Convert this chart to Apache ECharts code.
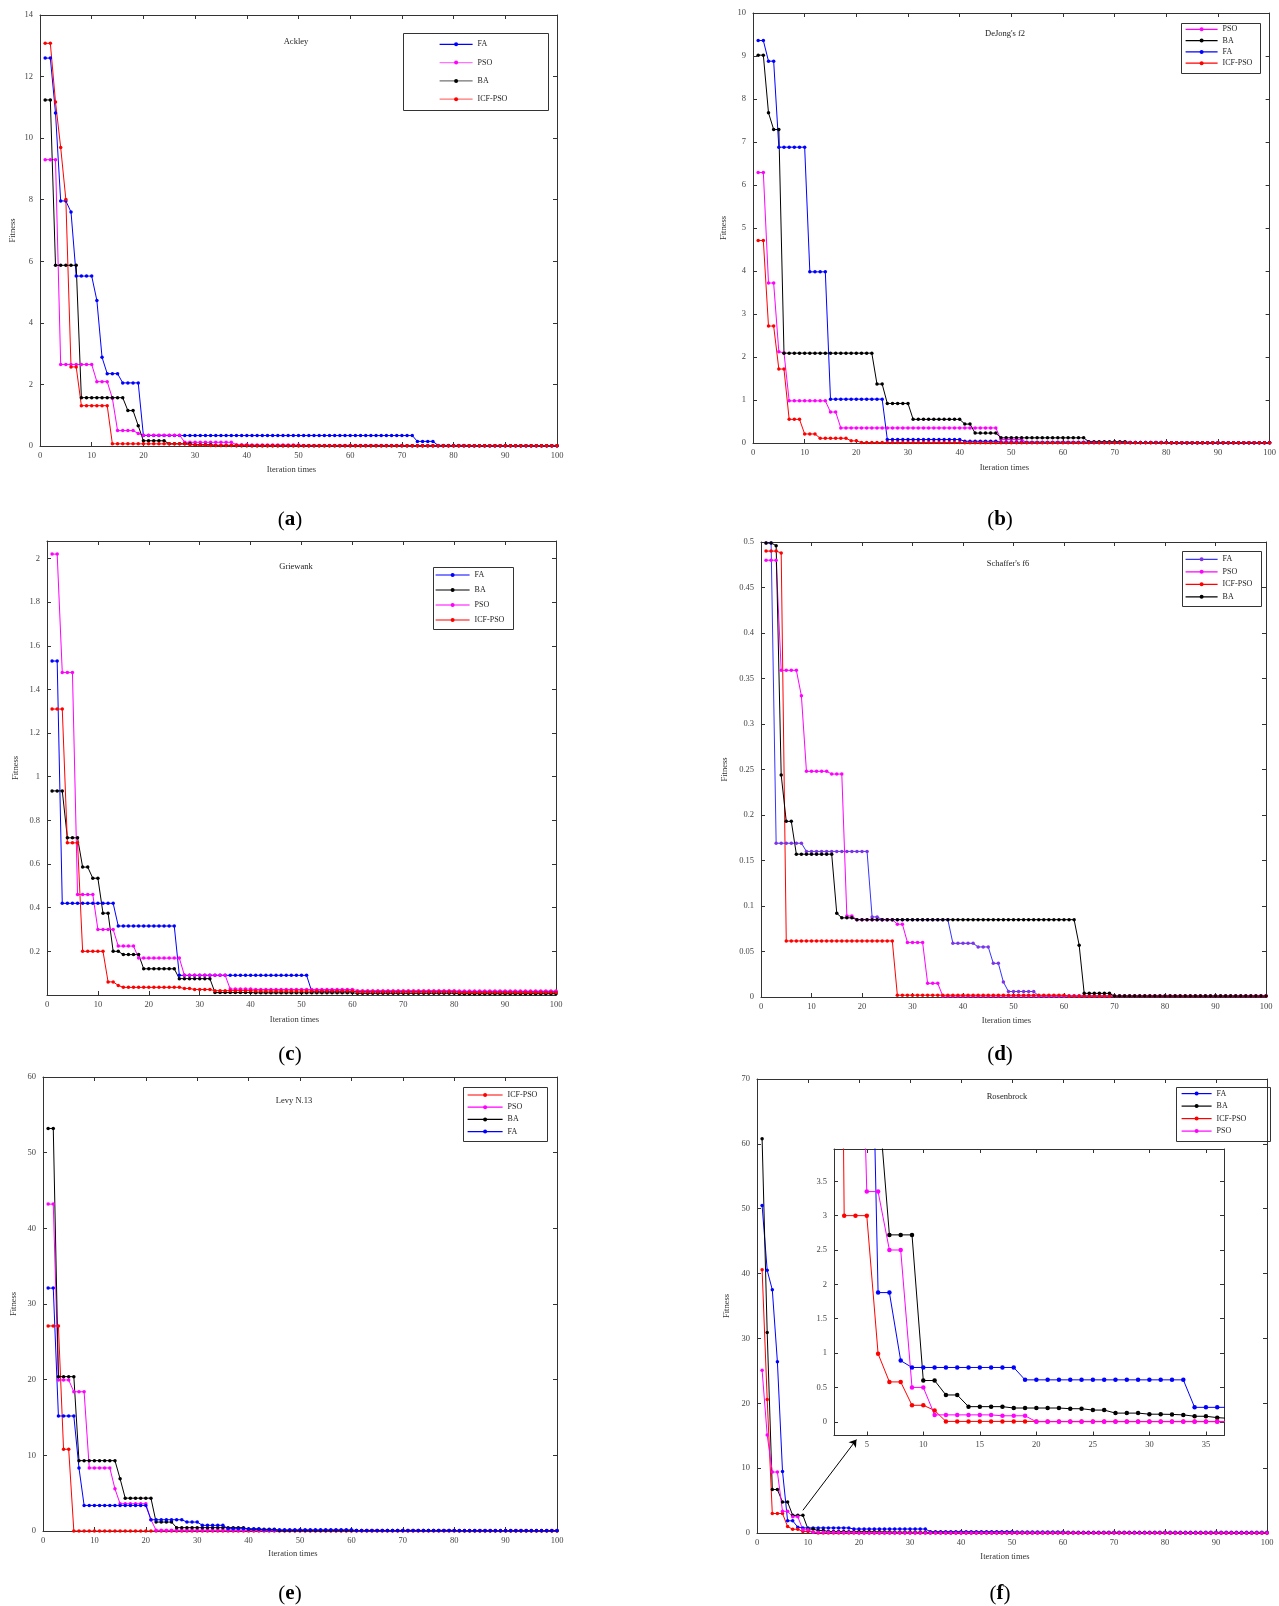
<!DOCTYPE html>
<html>
<head>
<meta charset="utf-8">
<title>Convergence curves</title>
<script src="https://cdn.jsdelivr.net/npm/echarts@6/dist/echarts.min.js"></script>
<style>
  html, body { margin: 0; padding: 0; background: #fff; }
  #main { width: 1279px; height: 1606px; }
</style>
</head>
<body>
<div id="main"></div>
<script>
// iteration index (x axis)
var iterations = [];
for (var k = 1; k <= 100; k++) iterations.push(k);

// (a) Ackley
var ackleyFA = [12.6, 12.6, 10.82, 7.96, 7.96, 7.6, 5.52, 5.52, 5.52, 5.52,
  4.73, 2.88, 2.35, 2.35, 2.35, 2.05, 2.05, 2.05, 2.05, 0.34,
  0.34, 0.34, 0.34, 0.34, 0.34, 0.34, 0.34, 0.34, 0.34, 0.34,
  0.34, 0.34, 0.34, 0.34, 0.34, 0.34, 0.34, 0.34, 0.34, 0.34,
  0.34, 0.34, 0.34, 0.34, 0.34, 0.34, 0.34, 0.34, 0.34, 0.34,
  0.34, 0.34, 0.34, 0.34, 0.34, 0.34, 0.34, 0.34, 0.34, 0.34,
  0.34, 0.34, 0.34, 0.34, 0.34, 0.34, 0.34, 0.34, 0.34, 0.34,
  0.34, 0.34, 0.15, 0.15, 0.15, 0.15, 0.02, 0.02, 0.02, 0.02,
  0.02, 0.02, 0.01, 0.01, 0.01, 0.01, 0.01, 0.01, 0.01, 0.01,
  0.01, 0.01, 0.01, 0.01, 0.01, 0.01, 0.01, 0.01, 0.01, 0.01];
var ackleyPSO = [9.3, 9.3, 9.3, 2.65, 2.65, 2.65, 2.65, 2.65, 2.65, 2.65,
  2.09, 2.09, 2.09, 1.55, 0.5, 0.5, 0.5, 0.5, 0.41, 0.35,
  0.35, 0.35, 0.35, 0.35, 0.35, 0.35, 0.35, 0.12, 0.12, 0.12,
  0.12, 0.12, 0.12, 0.12, 0.12, 0.12, 0.12, 0.04, 0.04, 0.04,
  0.03, 0.03, 0.03, 0.03, 0.03, 0.03, 0.03, 0.03, 0.03, 0.03,
  0.02, 0.02, 0.02, 0.02, 0.02, 0.02, 0.02, 0.02, 0.02, 0.02,
  0.02, 0.02, 0.02, 0.02, 0.02, 0.02, 0.02, 0.02, 0.02, 0.02,
  0.01, 0.01, 0.01, 0.01, 0.01, 0.01, 0.01, 0.01, 0.01, 0.01,
  0.01, 0.01, 0.01, 0.01, 0.01, 0.01, 0.01, 0.01, 0.01, 0.01,
  0.01, 0.01, 0.01, 0.01, 0.01, 0.01, 0.01, 0.01, 0.01, 0.01];
var ackleyBA = [11.24, 11.24, 5.87, 5.87, 5.87, 5.87, 5.87, 1.57, 1.57, 1.57,
  1.57, 1.57, 1.57, 1.57, 1.57, 1.57, 1.15, 1.15, 0.66, 0.17,
  0.17, 0.17, 0.17, 0.17, 0.07, 0.07, 0.07, 0.07, 0.07, 0.04,
  0.04, 0.04, 0.04, 0.02, 0.02, 0.02, 0.02, 0.01, 0.01, 0.01,
  0.01, 0.01, 0.01, 0.01, 0.01, 0.01, 0.01, 0.01, 0.01, 0.01,
  0.01, 0.01, 0.01, 0.01, 0.01, 0.01, 0.01, 0.01, 0.01, 0.01,
  0.01, 0.01, 0.01, 0.01, 0.01, 0.01, 0.01, 0.01, 0.01, 0.01,
  0.01, 0.01, 0.01, 0.01, 0.01, 0.01, 0.01, 0.01, 0.01, 0.01,
  0.005, 0.005, 0.005, 0.005, 0.005, 0.005, 0.005, 0.005, 0.005, 0.005,
  0.005, 0.005, 0.005, 0.005, 0.005, 0.005, 0.005, 0.005, 0.005, 0.005];
var ackleyICF = [13.08, 13.08, 11.17, 9.7, 8.01, 2.57, 2.57, 1.31, 1.31, 1.31,
  1.31, 1.31, 1.31, 0.07, 0.07, 0.07, 0.07, 0.07, 0.07, 0.07,
  0.07, 0.07, 0.07, 0.07, 0.07, 0.07, 0.07, 0.07, 0.04, 0.04,
  0.03, 0.03, 0.02, 0.02, 0.02, 0.02, 0.02, 0.02, 0.02, 0.02,
  0.01, 0.01, 0.01, 0.01, 0.01, 0.01, 0.01, 0.01, 0.01, 0.01,
  0.01, 0.01, 0.01, 0.01, 0.01, 0.01, 0.01, 0.01, 0.01, 0.01,
  0.005, 0.005, 0.005, 0.005, 0.005, 0.005, 0.005, 0.005, 0.005, 0.005,
  0.005, 0.005, 0.005, 0.005, 0.005, 0.005, 0.005, 0.005, 0.005, 0.005,
  0.005, 0.005, 0.005, 0.005, 0.005, 0.005, 0.005, 0.005, 0.005, 0.005,
  0.005, 0.005, 0.005, 0.005, 0.005, 0.005, 0.005, 0.005, 0.005, 0.005];

// (b) DeJong's f2
var dejongFA = [9.36, 9.36, 8.88, 8.88, 6.88, 6.88, 6.88, 6.88, 6.88, 6.88,
  3.98, 3.98, 3.98, 3.98, 1.02, 1.02, 1.02, 1.02, 1.02, 1.02,
  1.02, 1.02, 1.02, 1.02, 1.02, 0.08, 0.08, 0.08, 0.08, 0.08,
  0.08, 0.08, 0.08, 0.08, 0.08, 0.08, 0.08, 0.08, 0.08, 0.08,
  0.04, 0.04, 0.04, 0.04, 0.04, 0.04, 0.04, 0.02, 0.02, 0.02,
  0.02, 0.02, 0.02, 0.02, 0.02, 0.02, 0.02, 0.02, 0.02, 0.02,
  0.02, 0.02, 0.02, 0.02, 0.02, 0.01, 0.01, 0.01, 0.01, 0.01,
  0.01, 0.01, 0.01, 0.01, 0.01, 0.01, 0.01, 0.01, 0.01, 0.01,
  0.005, 0.005, 0.005, 0.005, 0.005, 0.005, 0.005, 0.005, 0.005, 0.005,
  0.005, 0.005, 0.005, 0.005, 0.005, 0.005, 0.005, 0.005, 0.005, 0.005];
var dejongBA = [9.02, 9.02, 7.68, 7.29, 7.29, 2.09, 2.09, 2.09, 2.09, 2.09,
  2.09, 2.09, 2.09, 2.09, 2.09, 2.09, 2.09, 2.09, 2.09, 2.09,
  2.09, 2.09, 2.09, 1.37, 1.37, 0.92, 0.92, 0.92, 0.92, 0.92,
  0.55, 0.55, 0.55, 0.55, 0.55, 0.55, 0.55, 0.55, 0.55, 0.55,
  0.44, 0.44, 0.23, 0.23, 0.23, 0.23, 0.23, 0.12, 0.12, 0.12,
  0.12, 0.12, 0.12, 0.12, 0.12, 0.12, 0.12, 0.12, 0.12, 0.12,
  0.12, 0.12, 0.12, 0.12, 0.03, 0.03, 0.03, 0.03, 0.03, 0.03,
  0.03, 0.03, 0.01, 0.01, 0.01, 0.01, 0.01, 0.01, 0.01, 0.01,
  0.005, 0.005, 0.005, 0.005, 0.005, 0.005, 0.005, 0.005, 0.005, 0.005,
  0.005, 0.005, 0.005, 0.005, 0.005, 0.005, 0.005, 0.005, 0.005, 0.005];
var dejongPSO = [6.29, 6.29, 3.72, 3.72, 2.12, 2.1, 0.98, 0.98, 0.98, 0.98,
  0.98, 0.98, 0.98, 0.98, 0.72, 0.72, 0.35, 0.35, 0.35, 0.35,
  0.35, 0.35, 0.35, 0.35, 0.35, 0.35, 0.35, 0.35, 0.35, 0.35,
  0.35, 0.35, 0.35, 0.35, 0.35, 0.35, 0.35, 0.35, 0.35, 0.35,
  0.35, 0.35, 0.35, 0.35, 0.35, 0.35, 0.35, 0.08, 0.08, 0.08,
  0.08, 0.08, 0.01, 0.01, 0.01, 0.01, 0.01, 0.01, 0.01, 0.01,
  0.01, 0.01, 0.01, 0.01, 0.01, 0.01, 0.01, 0.01, 0.01, 0.01,
  0.01, 0.01, 0.01, 0.01, 0.01, 0.01, 0.01, 0.01, 0.01, 0.01,
  0.005, 0.005, 0.005, 0.005, 0.005, 0.005, 0.005, 0.005, 0.005, 0.005,
  0.005, 0.005, 0.005, 0.005, 0.005, 0.005, 0.005, 0.005, 0.005, 0.005];
var dejongICF = [4.71, 4.71, 2.72, 2.72, 1.72, 1.72, 0.55, 0.55, 0.55, 0.21,
  0.21, 0.21, 0.11, 0.11, 0.11, 0.11, 0.11, 0.11, 0.05, 0.05,
  0.01, 0.01, 0.01, 0.01, 0.01, 0.01, 0.01, 0.01, 0.01, 0.01,
  0.01, 0.01, 0.01, 0.01, 0.01, 0.01, 0.01, 0.01, 0.01, 0.01,
  0.005, 0.005, 0.005, 0.005, 0.005, 0.005, 0.005, 0.005, 0.005, 0.005,
  0.005, 0.005, 0.005, 0.005, 0.005, 0.005, 0.005, 0.005, 0.005, 0.005,
  0.005, 0.005, 0.005, 0.005, 0.005, 0.005, 0.005, 0.005, 0.005, 0.005,
  0.005, 0.005, 0.005, 0.005, 0.005, 0.005, 0.005, 0.005, 0.005, 0.005,
  0.005, 0.005, 0.005, 0.005, 0.005, 0.005, 0.005, 0.005, 0.005, 0.005,
  0.005, 0.005, 0.005, 0.005, 0.005, 0.005, 0.005, 0.005, 0.005, 0.005];

// (c) Griewank
var griewankFA = [1.53, 1.53, 0.42, 0.42, 0.42, 0.42, 0.42, 0.42, 0.42, 0.42,
  0.42, 0.42, 0.42, 0.316, 0.316, 0.316, 0.316, 0.316, 0.316, 0.316,
  0.316, 0.316, 0.316, 0.316, 0.316, 0.09, 0.09, 0.09, 0.09, 0.09,
  0.09, 0.09, 0.09, 0.09, 0.09, 0.09, 0.09, 0.09, 0.09, 0.09,
  0.09, 0.09, 0.09, 0.09, 0.09, 0.09, 0.09, 0.09, 0.09, 0.09,
  0.09, 0.017, 0.017, 0.017, 0.017, 0.017, 0.017, 0.017, 0.017, 0.017,
  0.015, 0.015, 0.015, 0.015, 0.015, 0.015, 0.015, 0.015, 0.015, 0.015,
  0.015, 0.015, 0.015, 0.015, 0.015, 0.015, 0.015, 0.015, 0.015, 0.015,
  0.015, 0.015, 0.015, 0.015, 0.015, 0.015, 0.015, 0.015, 0.015, 0.015,
  0.015, 0.015, 0.015, 0.015, 0.015, 0.015, 0.015, 0.015, 0.015, 0.015];
var griewankBA = [0.935, 0.935, 0.935, 0.72, 0.72, 0.72, 0.586, 0.586, 0.535, 0.535,
  0.375, 0.375, 0.2, 0.2, 0.185, 0.185, 0.185, 0.185, 0.12, 0.12,
  0.12, 0.12, 0.12, 0.12, 0.12, 0.075, 0.075, 0.075, 0.075, 0.075,
  0.075, 0.075, 0.011, 0.011, 0.011, 0.011, 0.011, 0.011, 0.011, 0.011,
  0.01, 0.01, 0.01, 0.01, 0.01, 0.01, 0.01, 0.01, 0.01, 0.01,
  0.01, 0.01, 0.01, 0.01, 0.01, 0.01, 0.01, 0.01, 0.01, 0.01,
  0.008, 0.008, 0.008, 0.008, 0.008, 0.008, 0.008, 0.008, 0.008, 0.008,
  0.008, 0.008, 0.008, 0.008, 0.008, 0.008, 0.008, 0.008, 0.008, 0.008,
  0.006, 0.006, 0.006, 0.006, 0.006, 0.006, 0.006, 0.006, 0.006, 0.006,
  0.006, 0.006, 0.006, 0.006, 0.006, 0.006, 0.006, 0.006, 0.006, 0.006];
var griewankPSO = [2.02, 2.02, 1.478, 1.478, 1.478, 0.46, 0.46, 0.46, 0.46, 0.3,
  0.3, 0.3, 0.3, 0.224, 0.224, 0.224, 0.224, 0.169, 0.169, 0.169,
  0.169, 0.169, 0.169, 0.169, 0.169, 0.169, 0.09, 0.09, 0.09, 0.09,
  0.09, 0.09, 0.09, 0.09, 0.09, 0.027, 0.027, 0.027, 0.027, 0.027,
  0.025, 0.025, 0.025, 0.025, 0.025, 0.025, 0.025, 0.025, 0.025, 0.025,
  0.025, 0.025, 0.025, 0.025, 0.025, 0.025, 0.025, 0.025, 0.025, 0.025,
  0.02, 0.02, 0.02, 0.02, 0.02, 0.02, 0.02, 0.02, 0.02, 0.02,
  0.02, 0.02, 0.02, 0.02, 0.02, 0.02, 0.02, 0.02, 0.02, 0.02,
  0.018, 0.018, 0.018, 0.018, 0.018, 0.018, 0.018, 0.018, 0.018, 0.018,
  0.018, 0.018, 0.018, 0.018, 0.018, 0.018, 0.018, 0.018, 0.018, 0.018];
var griewankICF = [1.31, 1.31, 1.31, 0.697, 0.697, 0.697, 0.2, 0.2, 0.2, 0.2,
  0.2, 0.06, 0.06, 0.044, 0.035, 0.035, 0.035, 0.035, 0.035, 0.035,
  0.035, 0.035, 0.035, 0.035, 0.035, 0.035, 0.03, 0.03, 0.025, 0.025,
  0.025, 0.025, 0.02, 0.02, 0.02, 0.02, 0.02, 0.02, 0.02, 0.02,
  0.018, 0.018, 0.018, 0.018, 0.018, 0.018, 0.018, 0.018, 0.018, 0.018,
  0.018, 0.018, 0.018, 0.018, 0.018, 0.018, 0.018, 0.018, 0.018, 0.018,
  0.014, 0.014, 0.014, 0.014, 0.014, 0.014, 0.014, 0.014, 0.014, 0.014,
  0.014, 0.014, 0.014, 0.014, 0.014, 0.014, 0.014, 0.014, 0.014, 0.014,
  0.012, 0.012, 0.012, 0.012, 0.012, 0.012, 0.012, 0.012, 0.012, 0.012,
  0.012, 0.012, 0.012, 0.012, 0.012, 0.012, 0.012, 0.012, 0.012, 0.012];

// (d) Schaffer's f6
var schafferFA = [0.499, 0.499, 0.169, 0.169, 0.169, 0.169, 0.169, 0.169, 0.16, 0.16,
  0.16, 0.16, 0.16, 0.16, 0.16, 0.16, 0.16, 0.16, 0.16, 0.16,
  0.16, 0.088, 0.088, 0.085, 0.085, 0.085, 0.085, 0.085, 0.085, 0.085,
  0.085, 0.085, 0.085, 0.085, 0.085, 0.085, 0.085, 0.059, 0.059, 0.059,
  0.059, 0.059, 0.055, 0.055, 0.055, 0.037, 0.037, 0.0165, 0.006, 0.006,
  0.006, 0.006, 0.006, 0.006, 0.001, 0.001, 0.001, 0.001, 0.001, 0.001,
  0.001, 0.001, 0.001, 0.001, 0.001, 0.001, 0.001, 0.001, 0.001, 0.001,
  0.001, 0.001, 0.001, 0.001, 0.001, 0.001, 0.001, 0.001, 0.001, 0.001,
  0.001, 0.001, 0.001, 0.001, 0.001, 0.001, 0.001, 0.001, 0.001, 0.001,
  0.001, 0.001, 0.001, 0.001, 0.001, 0.001, 0.001, 0.001, 0.001, 0.001];
var schafferPSO = [0.48, 0.48, 0.48, 0.359, 0.359, 0.359, 0.359, 0.331, 0.248, 0.248,
  0.248, 0.248, 0.248, 0.245, 0.245, 0.245, 0.089, 0.089, 0.085, 0.085,
  0.085, 0.085, 0.085, 0.085, 0.085, 0.085, 0.08, 0.08, 0.06, 0.06,
  0.06, 0.06, 0.015, 0.015, 0.015, 0.001, 0.001, 0.001, 0.001, 0.001,
  0.001, 0.001, 0.001, 0.001, 0.001, 0.001, 0.001, 0.001, 0.001, 0.001,
  0.001, 0.001, 0.001, 0.001, 0.001, 0.001, 0.001, 0.001, 0.001, 0.001,
  0.001, 0.001, 0.001, 0.001, 0.001, 0.001, 0.001, 0.001, 0.001, 0.001,
  0.001, 0.001, 0.001, 0.001, 0.001, 0.001, 0.001, 0.001, 0.001, 0.001,
  0.001, 0.001, 0.001, 0.001, 0.001, 0.001, 0.001, 0.001, 0.001, 0.001,
  0.001, 0.001, 0.001, 0.001, 0.001, 0.001, 0.001, 0.001, 0.001, 0.001];
var schafferICF = [0.49, 0.49, 0.49, 0.488, 0.0616, 0.0616, 0.0616, 0.0616, 0.0616, 0.0616,
  0.0616, 0.0616, 0.0616, 0.0616, 0.0616, 0.0616, 0.0616, 0.0616, 0.0616, 0.0616,
  0.0616, 0.0616, 0.0616, 0.0616, 0.0616, 0.0616, 0.002, 0.002, 0.002, 0.002,
  0.002, 0.002, 0.002, 0.002, 0.002, 0.002, 0.002, 0.002, 0.002, 0.002,
  0.002, 0.002, 0.002, 0.002, 0.002, 0.002, 0.002, 0.002, 0.002, 0.002,
  0.002, 0.002, 0.002, 0.002, 0.002, 0.002, 0.002, 0.002, 0.002, 0.002,
  0.001, 0.001, 0.001, 0.001, 0.001, 0.001, 0.001, 0.001, 0.001, 0.001,
  0.001, 0.001, 0.001, 0.001, 0.001, 0.001, 0.001, 0.001, 0.001, 0.001,
  0.001, 0.001, 0.001, 0.001, 0.001, 0.001, 0.001, 0.001, 0.001, 0.001,
  0.001, 0.001, 0.001, 0.001, 0.001, 0.001, 0.001, 0.001, 0.001, 0.001];
var schafferBA = [0.499, 0.499, 0.496, 0.244, 0.193, 0.193, 0.157, 0.157, 0.157, 0.157,
  0.157, 0.157, 0.157, 0.157, 0.092, 0.087, 0.087, 0.087, 0.085, 0.085,
  0.085, 0.085, 0.085, 0.085, 0.085, 0.085, 0.085, 0.085, 0.085, 0.085,
  0.085, 0.085, 0.085, 0.085, 0.085, 0.085, 0.085, 0.085, 0.085, 0.085,
  0.085, 0.085, 0.085, 0.085, 0.085, 0.085, 0.085, 0.085, 0.085, 0.085,
  0.085, 0.085, 0.085, 0.085, 0.085, 0.085, 0.085, 0.085, 0.085, 0.085,
  0.085, 0.085, 0.057, 0.004, 0.004, 0.004, 0.004, 0.004, 0.004, 0.001,
  0.001, 0.001, 0.001, 0.001, 0.001, 0.001, 0.001, 0.001, 0.001, 0.001,
  0.001, 0.001, 0.001, 0.001, 0.001, 0.001, 0.001, 0.001, 0.001, 0.001,
  0.001, 0.001, 0.001, 0.001, 0.001, 0.001, 0.001, 0.001, 0.001, 0.001];

// (e) Levy N.13
var levyICF = [27.1, 27.1, 27.1, 10.8, 10.8, 0, 0, 0, 0, 0,
  0, 0, 0, 0, 0, 0, 0, 0, 0, 0,
  0, 0, 0, 0, 0, 0, 0, 0, 0, 0,
  0, 0, 0, 0, 0, 0, 0, 0, 0, 0,
  0, 0, 0, 0, 0, 0, 0, 0, 0, 0,
  0, 0, 0, 0, 0, 0, 0, 0, 0, 0,
  0, 0, 0, 0, 0, 0, 0, 0, 0, 0,
  0, 0, 0, 0, 0, 0, 0, 0, 0, 0,
  0, 0, 0, 0, 0, 0, 0, 0, 0, 0,
  0, 0, 0, 0, 0, 0, 0, 0, 0, 0];
var levyPSO = [43.2, 43.2, 19.96, 19.96, 19.96, 18.4, 18.4, 18.4, 8.33, 8.33,
  8.33, 8.33, 8.33, 5.57, 3.6, 3.6, 3.6, 3.6, 3.6, 3.6,
  1.49, 0.1, 0.1, 0.1, 0.1, 0.1, 0.1, 0.1, 0.1, 0.1,
  0.1, 0.1, 0.1, 0.1, 0.1, 0.1, 0.1, 0.1, 0.1, 0.1,
  0.08, 0.08, 0.08, 0.08, 0.08, 0.08, 0.08, 0.08, 0.08, 0.08,
  0.08, 0.08, 0.08, 0.08, 0.08, 0.08, 0.08, 0.08, 0.08, 0.08,
  0.05, 0.05, 0.05, 0.05, 0.05, 0.05, 0.05, 0.05, 0.05, 0.05,
  0.05, 0.05, 0.05, 0.05, 0.05, 0.05, 0.05, 0.05, 0.05, 0.05,
  0.05, 0.05, 0.05, 0.05, 0.05, 0.05, 0.05, 0.05, 0.05, 0.05,
  0.05, 0.05, 0.05, 0.05, 0.05, 0.05, 0.05, 0.05, 0.05, 0.05];
var levyBA = [53.2, 53.2, 20.4, 20.4, 20.4, 20.4, 9.3, 9.3, 9.3, 9.3,
  9.3, 9.3, 9.3, 9.3, 6.9, 4.34, 4.34, 4.34, 4.34, 4.34,
  4.34, 1.18, 1.18, 1.18, 1.18, 0.44, 0.44, 0.44, 0.44, 0.44,
  0.44, 0.44, 0.44, 0.44, 0.44, 0.44, 0.44, 0.44, 0.44, 0.22,
  0.22, 0.22, 0.22, 0.22, 0.22, 0.05, 0.05, 0.05, 0.05, 0.05,
  0.05, 0.05, 0.05, 0.05, 0.05, 0.05, 0.05, 0.05, 0.05, 0.05,
  0.05, 0.05, 0.05, 0.05, 0.05, 0.05, 0.05, 0.05, 0.05, 0.05,
  0.05, 0.05, 0.05, 0.05, 0.05, 0.05, 0.05, 0.05, 0.05, 0.05,
  0.04, 0.04, 0.04, 0.04, 0.04, 0.04, 0.04, 0.04, 0.04, 0.04,
  0.04, 0.04, 0.04, 0.04, 0.04, 0.04, 0.04, 0.04, 0.04, 0.04];
var levyFA = [32.1, 32.1, 15.2, 15.2, 15.2, 15.2, 8.33, 3.38, 3.38, 3.38,
  3.38, 3.38, 3.38, 3.38, 3.38, 3.38, 3.38, 3.38, 3.38, 3.38,
  1.49, 1.49, 1.49, 1.49, 1.49, 1.49, 1.49, 1.18, 1.18, 1.18,
  0.75, 0.75, 0.75, 0.75, 0.75, 0.3, 0.3, 0.3, 0.3, 0.3,
  0.3, 0.3, 0.15, 0.15, 0.15, 0.15, 0.15, 0.15, 0.15, 0.15,
  0.15, 0.15, 0.15, 0.15, 0.15, 0.15, 0.15, 0.15, 0.15, 0.15,
  0.08, 0.08, 0.08, 0.08, 0.08, 0.08, 0.08, 0.08, 0.08, 0.08,
  0.08, 0.08, 0.08, 0.08, 0.08, 0.08, 0.08, 0.08, 0.08, 0.08,
  0.06, 0.06, 0.06, 0.06, 0.06, 0.06, 0.06, 0.06, 0.06, 0.06,
  0.06, 0.06, 0.06, 0.06, 0.06, 0.06, 0.06, 0.06, 0.06, 0.06];

// (f) Rosenbrock
var rosenFA = [50.5, 40.5, 37.5, 26.4, 9.5, 1.88, 1.88, 0.89, 0.79, 0.79,
  0.79, 0.79, 0.79, 0.79, 0.79, 0.79, 0.79, 0.79, 0.61, 0.61,
  0.61, 0.61, 0.61, 0.61, 0.61, 0.61, 0.61, 0.61, 0.61, 0.61,
  0.61, 0.61, 0.61, 0.21, 0.21, 0.21, 0.21, 0.21, 0.21, 0.21,
  0.21, 0.21, 0.21, 0.21, 0.21, 0.21, 0.21, 0.21, 0.21, 0.21,
  0.15, 0.15, 0.15, 0.15, 0.15, 0.15, 0.15, 0.15, 0.15, 0.15,
  0.1, 0.1, 0.1, 0.1, 0.1, 0.1, 0.1, 0.1, 0.1, 0.1,
  0.1, 0.1, 0.1, 0.1, 0.1, 0.1, 0.1, 0.1, 0.1, 0.1,
  0.1, 0.1, 0.1, 0.1, 0.1, 0.1, 0.1, 0.1, 0.1, 0.1,
  0.1, 0.1, 0.1, 0.1, 0.1, 0.1, 0.1, 0.1, 0.1, 0.1];
var rosenBA = [60.8, 30.9, 6.7, 6.7, 4.77, 4.77, 2.72, 2.72, 2.72, 0.6,
  0.6, 0.39, 0.39, 0.22, 0.22, 0.22, 0.22, 0.2, 0.2, 0.2,
  0.2, 0.2, 0.19, 0.19, 0.17, 0.17, 0.126, 0.126, 0.126, 0.11,
  0.11, 0.107, 0.1, 0.08, 0.08, 0.06, 0.05, 0.05, 0.04, 0.04,
  0.03, 0.03, 0.03, 0.03, 0.03, 0.03, 0.03, 0.03, 0.03, 0.03,
  0.03, 0.03, 0.03, 0.03, 0.03, 0.03, 0.03, 0.03, 0.03, 0.03,
  0.02, 0.02, 0.02, 0.02, 0.02, 0.02, 0.02, 0.02, 0.02, 0.02,
  0.02, 0.02, 0.02, 0.02, 0.02, 0.02, 0.02, 0.02, 0.02, 0.02,
  0.01, 0.01, 0.01, 0.01, 0.01, 0.01, 0.01, 0.01, 0.01, 0.01,
  0.01, 0.01, 0.01, 0.01, 0.01, 0.01, 0.01, 0.01, 0.01, 0.01];
var rosenICF = [40.6, 20.6, 3, 3, 3, 0.99, 0.58, 0.58, 0.24, 0.24,
  0.165, 0.005, 0.005, 0.005, 0.005, 0.005, 0.005, 0.005, 0.005, 0.005,
  0.005, 0.005, 0.005, 0.005, 0.005, 0.005, 0.005, 0.005, 0.005, 0.005,
  0.005, 0.005, 0.005, 0.005, 0.005, 0.005, 0.005, 0.005, 0.005, 0.005,
  0.005, 0.005, 0.005, 0.005, 0.005, 0.005, 0.005, 0.005, 0.005, 0.005,
  0.005, 0.005, 0.005, 0.005, 0.005, 0.005, 0.005, 0.005, 0.005, 0.005,
  0.005, 0.005, 0.005, 0.005, 0.005, 0.005, 0.005, 0.005, 0.005, 0.005,
  0.005, 0.005, 0.005, 0.005, 0.005, 0.005, 0.005, 0.005, 0.005, 0.005,
  0.005, 0.005, 0.005, 0.005, 0.005, 0.005, 0.005, 0.005, 0.005, 0.005,
  0.005, 0.005, 0.005, 0.005, 0.005, 0.005, 0.005, 0.005, 0.005, 0.005];
var rosenPSO = [25.1, 15.1, 9.4, 9.4, 3.35, 3.35, 2.5, 2.5, 0.5, 0.5,
  0.1, 0.1, 0.1, 0.1, 0.1, 0.1, 0.087, 0.087, 0.087, 0,
  0, 0, 0, 0, 0, 0, 0, 0, 0, 0,
  0, 0, 0, 0, 0, 0, 0, 0, 0, 0,
  0, 0, 0, 0, 0, 0, 0, 0, 0, 0,
  0, 0, 0, 0, 0, 0, 0, 0, 0, 0,
  0, 0, 0, 0, 0, 0, 0, 0, 0, 0,
  0, 0, 0, 0, 0, 0, 0, 0, 0, 0,
  0, 0, 0, 0, 0, 0, 0, 0, 0, 0,
  0, 0, 0, 0, 0, 0, 0, 0, 0, 0];

// arrow from the main Rosenbrock curves up to the zoomed inset (data coords)
var arrowFrom = [9.0, 3.5];
var arrowTo = [19.5, 14.4];

var FONT = 'Liberation Serif';
var COLORS = { 'FA': '#0000ff', 'PSO': '#ff00ff', 'BA': '#000000', 'ICF-PSO': '#ff0000' };
var FA_PURPLE = { line: '#3535ff', marker: '#8033e6' };
var LEGEND_ROW = 8;

var panels = [
  { title: 'Ackley', titleAt: [296, 42], tag: 'a', tagAt: [290, 520],
    box: [40, 15, 517, 431], yMax: 14, yStep: 2, yGap: 23, xGap: 19,
    series: [['FA', ackleyFA], ['PSO', ackleyPSO], ['BA', ackleyBA], ['ICF-PSO', ackleyICF]],
    legend: { left: 439, y0: 44.3, step: 18.3, w: 33, box: [403, 33, 145, 77], faded: true } },
  { title: "DeJong's f2", titleAt: [1005, 34], tag: 'b', tagAt: [1000, 520],
    box: [753, 13, 518, 430], yMax: 10, yStep: 1, yGap: 25, xGap: 20,
    series: [['PSO', dejongPSO], ['BA', dejongBA], ['FA', dejongFA], ['ICF-PSO', dejongICF]],
    legend: { left: 1185, y0: 29.3, step: 11.3, w: 32, box: [1181, 23, 79, 50] } },
  { title: 'Griewank', titleAt: [296, 567], tag: 'c', tagAt: [290, 1055],
    box: [47, 541, 509, 454], yMax: 2.08, yStep: 0.2, yGap: 27, xGap: 20, hideYMin: true,
    series: [['FA', griewankFA], ['BA', griewankBA], ['PSO', griewankPSO], ['ICF-PSO', griewankICF]],
    legend: { left: 435, y0: 575, step: 15, w: 34, box: [433, 567, 80, 62] } },
  { title: "Schaffer's f6", titleAt: [1008, 564], tag: 'd', tagAt: [1000, 1055],
    box: [761, 542, 505, 455], yMax: 0.5, yStep: 0.05, yGap: 32, xGap: 19, purpleFA: true,
    series: [['FA', schafferFA], ['PSO', schafferPSO], ['ICF-PSO', schafferICF], ['BA', schafferBA]],
    legend: { left: 1185, y0: 559.3, step: 12.5, w: 32, box: [1182, 551, 79, 55] } },
  { title: 'Levy N.13', titleAt: [294, 1101], tag: 'e', tagAt: [290, 1594],
    box: [43, 1077, 514, 454], yMax: 60, yStep: 10, yGap: 25, xGap: 18,
    series: [['ICF-PSO', levyICF], ['PSO', levyPSO], ['BA', levyBA], ['FA', levyFA]],
    legend: { left: 467, y0: 1095, step: 12.2, w: 35, box: [463, 1087, 84, 54] } },
  { title: 'Rosenbrock', titleAt: [1007, 1097], tag: 'f', tagAt: [1000, 1594],
    box: [757, 1079, 510, 454], yMax: 70, yStep: 10, yGap: 26, xGap: 19, arrow: true,
    series: [['FA', rosenFA], ['BA', rosenBA], ['ICF-PSO', rosenICF], ['PSO', rosenPSO]],
    legend: { left: 1181, y0: 1093.6, step: 12.5, w: 30, box: [1176, 1087, 94, 54] } }
];

var inset = { box: [834, 1149, 390, 286.5], xMin: 2.1, xMax: 36.6, xStep: 5, yMin: -0.2, yMax: 3.97, yStep: 0.5 };

var grids = [], xAxes = [], yAxes = [], series = [], legends = [], graphics = [];

function axes(gridIndex, dim, spec) {
  var base = {
    type: 'value', gridIndex: gridIndex, min: spec.min, max: spec.max,
    axisLine: { show: true, onZero: false, lineStyle: { color: '#333', width: 1 } },
    axisTick: { show: true, inside: true, length: 4, lineStyle: { color: '#333', width: 1 } },
    splitLine: { show: false }
  };
  if (spec.interval) base.interval = spec.interval;
  if (spec.step) { base.minInterval = spec.step; base.maxInterval = spec.step; base.splitNumber = spec.split; }
  var main = Object.assign({}, base, {
    position: dim === 'x' ? 'bottom' : 'left',
    axisLabel: { show: true, fontFamily: FONT, fontSize: 8.5, color: '#444', margin: dim === 'x' ? 5 : 7,
      showMinLabel: spec.showMin !== false, showMaxLabel: spec.showMax !== false },
    name: spec.name || '', nameLocation: 'middle', nameGap: spec.nameGap || 0,
    nameTextStyle: { fontFamily: FONT, fontSize: 8.5, color: '#333', padding: spec.namePad || 0 }
  });
  var mirror = Object.assign({}, base, {
    position: dim === 'x' ? 'top' : 'right',
    axisLabel: { show: false }
  });
  return [main, mirror];
}

function addGrid(box, xs, ys) {
  var g = grids.length;
  grids.push({ left: box[0], top: box[1], width: box[2], height: box[3], show: false, containLabel: false });
  Array.prototype.push.apply(xAxes, axes(g, 'x', xs));
  Array.prototype.push.apply(yAxes, axes(g, 'y', ys));
  return g;
}

function lineSeries(name, values, g, lineColor, markerColor, size) {
  return {
    name: name, type: 'line', xAxisIndex: 2 * g, yAxisIndex: 2 * g,
    data: values.map(function (v, i) { return [iterations[i], v]; }),
    symbol: 'circle', symbolSize: size, showSymbol: true,
    lineStyle: { color: lineColor, width: 1 },
    itemStyle: { color: markerColor },
    emphasis: { disabled: true }, silent: true, clip: true, animation: false
  };
}

function colorsFor(name, P) {
  if (name === 'FA' && P.purpleFA) return FA_PURPLE;
  return { line: COLORS[name], marker: COLORS[name] };
}

panels.forEach(function (P) {
  var ratio = P.yMax / P.yStep;
  var g = addGrid(P.box,
    { min: 0, max: 100, interval: 10, name: 'Iteration times', nameGap: P.xGap, namePad: [0, 14, 0, 0] },
    { min: 0, max: P.yMax, interval: P.yStep, name: 'Fitness', nameGap: P.yGap,
      showMin: !P.hideYMin, showMax: Math.abs(ratio - Math.round(ratio)) < 1e-6 });
  P.series.forEach(function (s, idx) {
    var c = colorsFor(s[0], P);
    var ser = lineSeries(s[0], s[1], g, c.line, c.marker, 3.5);
    if (P.arrow && idx === 0) {
      ser.markLine = {
        silent: true, symbol: ['none', 'arrow'], symbolSize: 7, animation: false,
        label: { show: false }, emphasis: { disabled: true },
        lineStyle: { color: '#000', width: 1, type: 'solid' },
        data: [[{ coord: arrowFrom }, { coord: arrowTo }]]
      };
    }
    series.push(ser);
  });

  var L = P.legend;
  legends.push({
    orient: 'vertical', left: L.left, top: L.y0 - LEGEND_ROW / 2, padding: 0,
    itemWidth: L.w, itemHeight: 5, itemGap: L.step - LEGEND_ROW, selectedMode: false,
    textStyle: { fontFamily: FONT, fontSize: 8, color: '#222', lineHeight: LEGEND_ROW },
    data: P.series.map(function (s) {
      var c = colorsFor(s[0], P);
      var faded = L.faded && s[0] !== 'FA';
      return { name: s[0], itemStyle: { color: c.marker }, lineStyle: { color: c.line, width: 1.2, opacity: faded ? 0.55 : 1 } };
    })
  });
  graphics.push({ type: 'rect', silent: true, shape: { x: L.box[0] + 0.5, y: L.box[1] + 0.5, width: L.box[2], height: L.box[3] },
    style: { fill: null, stroke: '#333', lineWidth: 1 } });
  graphics.push({ type: 'text', silent: true, x: P.titleAt[0], y: P.titleAt[1],
    style: { text: P.title, fontFamily: FONT, fontSize: 8.5, fill: '#222', align: 'center', verticalAlign: 'middle' } });
  graphics.push({ type: 'text', silent: true, x: P.tagAt[0], y: P.tagAt[1],
    style: { text: '{p|(}{b|' + P.tag + '}{p|)}', align: 'center', verticalAlign: 'middle',
      rich: { p: { fontFamily: FONT, fontSize: 21, fill: '#000' }, b: { fontFamily: FONT, fontSize: 21, fontWeight: 'bold', fill: '#000' } } } });
});

// zoomed inset inside (f)
var rosen = panels[5];
var gi = addGrid(inset.box,
  { min: inset.xMin, max: inset.xMax, step: inset.xStep, split: 7, showMin: false, showMax: false },
  { min: inset.yMin, max: inset.yMax, step: inset.yStep, split: 8, showMin: false, showMax: false });
rosen.series.forEach(function (s) {
  var c = colorsFor(s[0], rosen);
  series.push(lineSeries(s[0], s[1], gi, c.line, c.marker, 4.5));
});

var chart = echarts.init(document.getElementById('main'), null, { renderer: 'canvas' });
chart.setOption({
  animation: false,
  backgroundColor: '#fff',
  textStyle: { fontFamily: FONT },
  tooltip: { show: false },
  grid: grids,
  xAxis: xAxes,
  yAxis: yAxes,
  legend: legends,
  series: series,
  graphic: graphics
});
window.addEventListener('resize', chart.resize);
</script>
</body>
</html>
